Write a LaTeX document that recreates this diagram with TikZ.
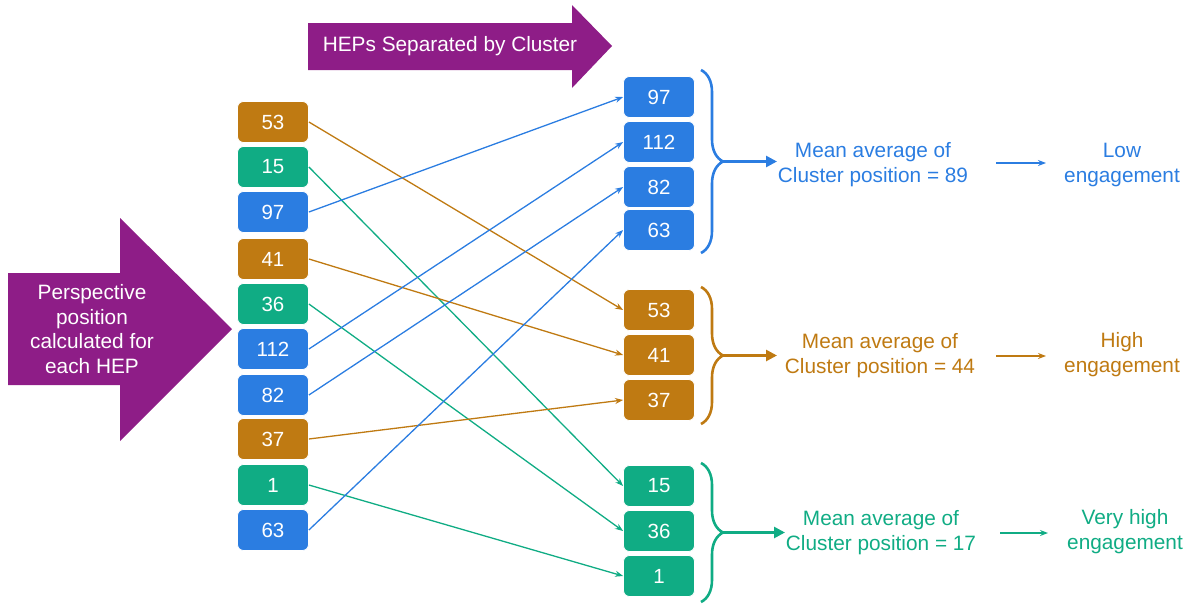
\documentclass[tikz,border=0pt]{standalone}
\usepackage{fontspec}
\setmainfont{Liberation Sans}
\usetikzlibrary{arrows.meta,decorations.pathreplacing}
\definecolor{cblue}{RGB}{43,125,225}
\definecolor{cbrown}{RGB}{191,122,18}
\definecolor{cgreen}{RGB}{16,172,132}
\definecolor{cpurple}{RGB}{142,29,135}
\tikzset{
  hep/.style={rounded corners=6pt, minimum width=71pt, minimum height=41pt, inner sep=0pt, draw=white, line width=0.8pt, text=white, font=\fontsize{20.5}{24}\selectfont},
  conn/.style={line width=1.3pt, -{Stealth[length=8pt,width=6pt]}},
  bracestyle/.style={line width=2.6pt, decorate, decoration={brace, amplitude=22pt, aspect=0.5}},
  bigarrow/.style={line width=2.6pt, -{Triangle[length=11pt,width=11pt]}},
  smallarrow/.style={line width=1.4pt, -{Stealth[length=8pt,width=6pt]}},
  lbl/.style={align=center, font=\fontsize{20.8}{25}\selectfont},
  arrowtext/.style={align=center, text=white, font=\fontsize{20.8}{24.5}\selectfont}
}
\begin{document}
\begin{tikzpicture}[x=1pt,y=-1pt]
\useasboundingbox (0,0) rectangle (1197,608);
% purple arrows
\fill[cpurple] (8,273) -- (120,273) -- (120,218) -- (232,329) -- (120,441) -- (120,385) -- (8,385) -- cycle;
\node[arrowtext] (pa) at (92,329) {Perspective\\position\\calculated for\\each HEP};
\fill[cpurple] (308,23) -- (572,23) -- (572,5) -- (612,46) -- (572,88) -- (572,70) -- (308,70) -- cycle;
\node[arrowtext] (ta) at (450,46) {HEPs Separated by Cluster};
% left boxes
\node[hep, fill=cbrown] (L53) at (273,122) {53};
\node[hep, fill=cgreen] (L15) at (273,167) {15};
\node[hep, fill=cblue] (L97) at (273,212) {97};
\node[hep, fill=cbrown] (L41) at (273,259) {41};
\node[hep, fill=cgreen] (L36) at (273,304) {36};
\node[hep, fill=cblue] (L112) at (273,349) {112};
\node[hep, fill=cblue] (L82) at (273,395) {82};
\node[hep, fill=cbrown] (L37) at (273,439) {37};
\node[hep, fill=cgreen] (L1) at (273,485) {1};
\node[hep, fill=cblue] (L63) at (273,530) {63};
% right boxes
\node[hep, fill=cblue] (R97) at (659,97) {97};
\node[hep, fill=cblue] (R112) at (659,142) {112};
\node[hep, fill=cblue] (R82) at (659,187) {82};
\node[hep, fill=cblue] (R63) at (659,230) {63};
\node[hep, fill=cbrown] (R53) at (659,310) {53};
\node[hep, fill=cbrown] (R41) at (659,355) {41};
\node[hep, fill=cbrown] (R37) at (659,400) {37};
\node[hep, fill=cgreen] (R15) at (659,486) {15};
\node[hep, fill=cgreen] (R36) at (659,531) {36};
\node[hep, fill=cgreen] (R1) at (659,576) {1};
% connectors
\draw[conn, cbrown] (L53.east) -- (R53.west);
\draw[conn, cgreen] (L15.east) -- (R15.west);
\draw[conn, cblue] (L97.east) -- (R97.west);
\draw[conn, cbrown] (L41.east) -- (R41.west);
\draw[conn, cgreen] (L36.east) -- (R36.west);
\draw[conn, cblue] (L112.east) -- (R112.west);
\draw[conn, cblue] (L82.east) -- (R82.west);
\draw[conn, cbrown] (L37.east) -- (R37.west);
\draw[conn, cgreen] (L1.east) -- (R1.west);
\draw[conn, cblue] (L63.east) -- (R63.west);
% braces
\coordinate (bt1) at (701,70); \coordinate (bb1) at (701,253);
\coordinate (bt2) at (701,287); \coordinate (bb2) at (701,424);
\coordinate (bt3) at (701,463); \coordinate (bb3) at (701,602);
\draw[bracestyle, cblue] (bt1) -- (bb1);
\draw[bracestyle, cbrown] (bt2) -- (bb2);
\draw[bracestyle, cgreen] (bt3) -- (bb3);
\coordinate (tip1) at (722,161.5);
\coordinate (tip2) at (722,355.5);
\coordinate (tip3) at (722,532.5);
\coordinate (end1) at (777,161.5);
\coordinate (end2) at (777,355.5);
\coordinate (end3) at (785,532.5);
% mean texts
\node[lbl, text=cblue] (M1) at (873,165) {Mean average of\\Cluster position = 89};
\node[lbl, text=cbrown] (M2) at (880,356) {Mean average of\\Cluster position = 44};
\node[lbl, text=cgreen] (M3) at (881,533) {Mean average of\\Cluster position = 17};
\draw[bigarrow, cblue] (tip1) -- (end1);
\draw[bigarrow, cbrown] (tip2) -- (end2);
\draw[bigarrow, cgreen] (tip3) -- (end3);
% engagement
\node[lbl, text=cblue] (E1) at (1122,165) {Low\\engagement};
\node[lbl, text=cbrown] (E2) at (1122,355) {High\\engagement};
\node[lbl, text=cgreen] (E3) at (1125,532) {Very high\\engagement};
\coordinate (s1) at (996,163); \coordinate (e1) at (1046,163);
\coordinate (s2) at (996,356); \coordinate (e2) at (1046,356);
\coordinate (s3) at (1000,533); \coordinate (e3) at (1048,533);
\draw[smallarrow, cblue] (s1) -- (e1);
\draw[smallarrow, cbrown] (s2) -- (e2);
\draw[smallarrow, cgreen] (s3) -- (e3);
\end{tikzpicture}
\end{document}
